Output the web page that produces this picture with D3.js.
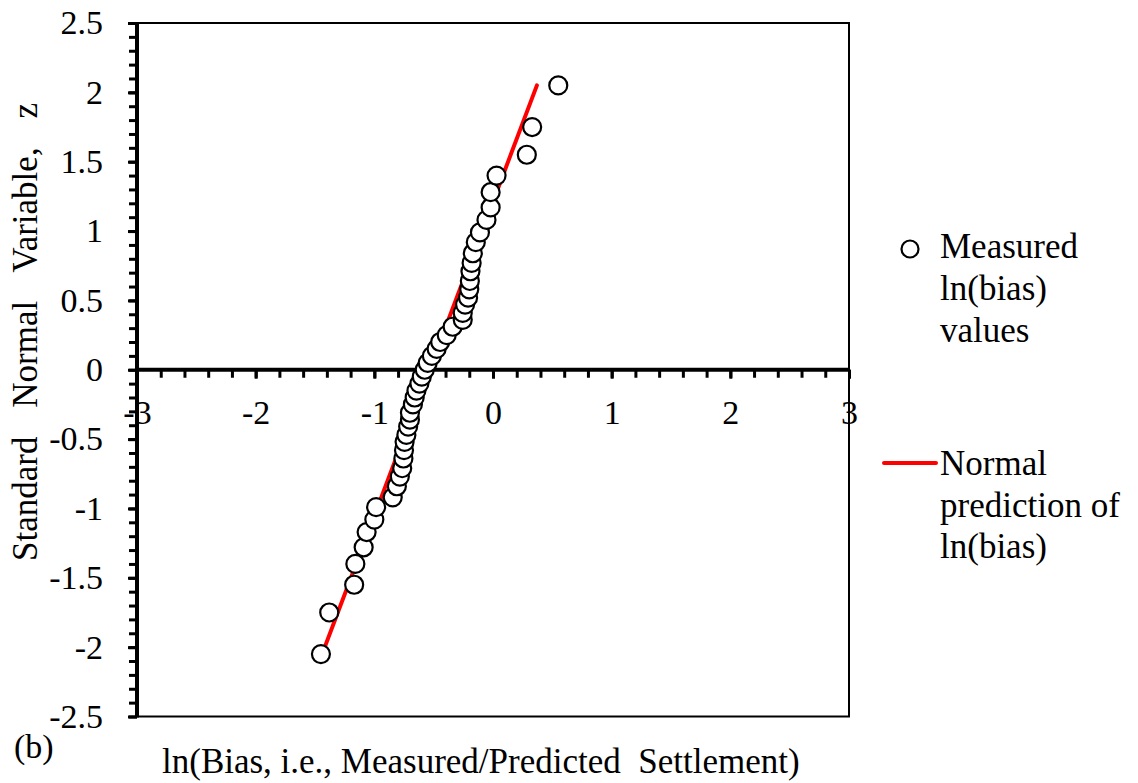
<!DOCTYPE html>
<html><head><meta charset="utf-8">
<script src="https://cdn.jsdelivr.net/npm/d3@7"></script>
<style>
body{margin:0;background:#fff}
svg text{font-family:"Liberation Serif","Times New Roman",serif;fill:#000}
</style>
</head><body>
<svg id="chart" width="1138" height="783"></svg>
<script>
// Measured ln(bias) values (x) and their standard normal variable z
const zValues = [-2.05,-1.75,-1.55,-1.40,-1.28,-1.17,-1.08,-0.99,-0.92,-0.84,-0.77,-0.71,-0.64,-0.58,-0.52,-0.47,-0.41,-0.36,-0.31,-0.25,-0.20,-0.15,-0.10,-0.05,0.00,
                 0.05,0.10,0.15,0.20,0.25,0.31,0.36,0.41,0.47,0.52,0.58,0.64,0.71,0.77,0.84,0.92,0.99,1.08,1.17,1.28,1.40,1.55,1.75,2.05];
const lnBias  = [-1.45,-1.38,-1.17,-1.16,-1.09,-1.065,-1.00,-0.985,-0.845,-0.81,-0.785,-0.765,-0.755,-0.75,-0.745,-0.73,-0.715,-0.70,-0.70,-0.675,-0.66,-0.645,-0.62,-0.60,-0.575,
                 -0.55,-0.515,-0.475,-0.445,-0.39,-0.34,-0.255,-0.255,-0.235,-0.21,-0.20,-0.195,-0.19,-0.18,-0.17,-0.145,-0.11,-0.055,-0.02,-0.02,0.03,0.285,0.33,0.55];
// Normal prediction line
const lineX = [-1.44, 0.37];
const lineZ = [-2.05, 2.05];
// Tick values
const xTicks = [-3,-2,-1,0,1,2,3];
const yTicks = [-2.5,-2,-1.5,-1,-0.5,0,0.5,1,1.5,2,2.5];
const xMinor = d3.range(-15,16).map(i => i/5);
const yMinor = d3.range(-25,26).map(i => i/10);

const svg = d3.select("#chart");
const L = 137, R = 849, T = 23, B = 716.5;
const x = d3.scaleLinear().domain([-3,3]).range([L,R]);
const y = d3.scaleLinear().domain([-2.5,2.5]).range([B,T]);
const fmt = d => String(d);

// plot box
svg.append("rect").attr("x",L).attr("y",T).attr("width",R-L).attr("height",B-T)
  .attr("fill","none").attr("stroke","#000").attr("stroke-width",2);

// y axis (left), minor ticks
const gyMinor = svg.append("g").attr("transform",`translate(${L},0)`)
  .call(d3.axisLeft(y).tickValues(yMinor).tickSize(8).tickFormat(""));
gyMinor.select(".domain").remove();
gyMinor.selectAll(".tick line").attr("stroke","#000").attr("stroke-width",3);

const gy = svg.append("g").attr("transform",`translate(${L},0)`)
  .call(d3.axisLeft(y).tickValues(yTicks).tickSize(9).tickPadding(25).tickFormat(fmt));
gy.select(".domain").remove();
gy.selectAll(".tick line").attr("stroke","#000").attr("stroke-width",3);
gy.selectAll(".tick text").attr("font-size",34).attr("font-family","Liberation Serif");

// x axis at z = 0
const gxMinor = svg.append("g").attr("transform",`translate(0,${y(0)})`)
  .call(d3.axisBottom(x).tickValues(xMinor).tickSize(8).tickFormat(""));
gxMinor.select(".domain").remove();
gxMinor.selectAll(".tick line").attr("stroke","#000").attr("stroke-width",3);

const gx = svg.append("g").attr("transform",`translate(0,${y(0)})`)
  .call(d3.axisBottom(x).tickValues(xTicks).tickSize(9).tickPadding(21).tickFormat(fmt));
gx.select(".domain").remove();
gx.selectAll(".tick line").attr("stroke","#000").attr("stroke-width",3);
gx.selectAll(".tick text").attr("font-size",34).attr("font-family","Liberation Serif");

// axis lines (drawn over labels)
svg.append("line").attr("x1",L).attr("x2",L).attr("y1",T-1).attr("y2",B+1)
  .attr("stroke","#000").attr("stroke-width",4);
svg.append("line").attr("x1",L).attr("x2",R+1).attr("y1",y(0)).attr("y2",y(0))
  .attr("stroke","#000").attr("stroke-width",4);

// normal prediction line
svg.append("path")
  .datum(lineX.map((v,i)=>[v,lineZ[i]]))
  .attr("d", d3.line().x(d=>x(d[0])).y(d=>y(d[1])))
  .attr("fill","none").attr("stroke","#ff0000").attr("stroke-width",4).attr("stroke-linecap","round");

// measured points
svg.append("g").selectAll("circle")
  .data(lnBias.map((v,i)=>[v,zValues[i]]))
  .join("circle")
  .attr("cx",d=>x(d[0])).attr("cy",d=>y(d[1])).attr("r",9)
  .attr("fill","#fff").attr("stroke","#000").attr("stroke-width",2.2);

// axis titles
svg.append("text").attr("x",162).attr("y",773).attr("font-size",35)
  .style("white-space","pre")
  .text("ln(Bias, i.e., Measured/Predicted  Settlement)");
svg.append("text").attr("transform","translate(37,332) rotate(-90)")
  .attr("text-anchor","middle").attr("font-size",35).style("word-spacing","20px")
  .text("Standard Normal Variable, z");
svg.append("text").attr("x",14).attr("y",758).attr("font-size",34).text("(b)");

// legend
const lg = svg.append("g");
lg.append("circle").attr("cx",910).attr("cy",249).attr("r",8.5)
  .attr("fill","#fff").attr("stroke","#000").attr("stroke-width",2.2);
["Measured","ln(bias)","values"].forEach((t,i)=>
  lg.append("text").attr("x",940).attr("y",258+i*42).attr("font-size",35).text(t));
lg.append("line").attr("x1",884).attr("x2",936).attr("y1",463).attr("y2",463)
  .attr("stroke","#ff0000").attr("stroke-width",4).attr("stroke-linecap","round");
["Normal","prediction of","ln(bias)"].forEach((t,i)=>
  lg.append("text").attr("x",940).attr("y",475+i*41.5).attr("font-size",35).text(t));
</script>
</body></html>
